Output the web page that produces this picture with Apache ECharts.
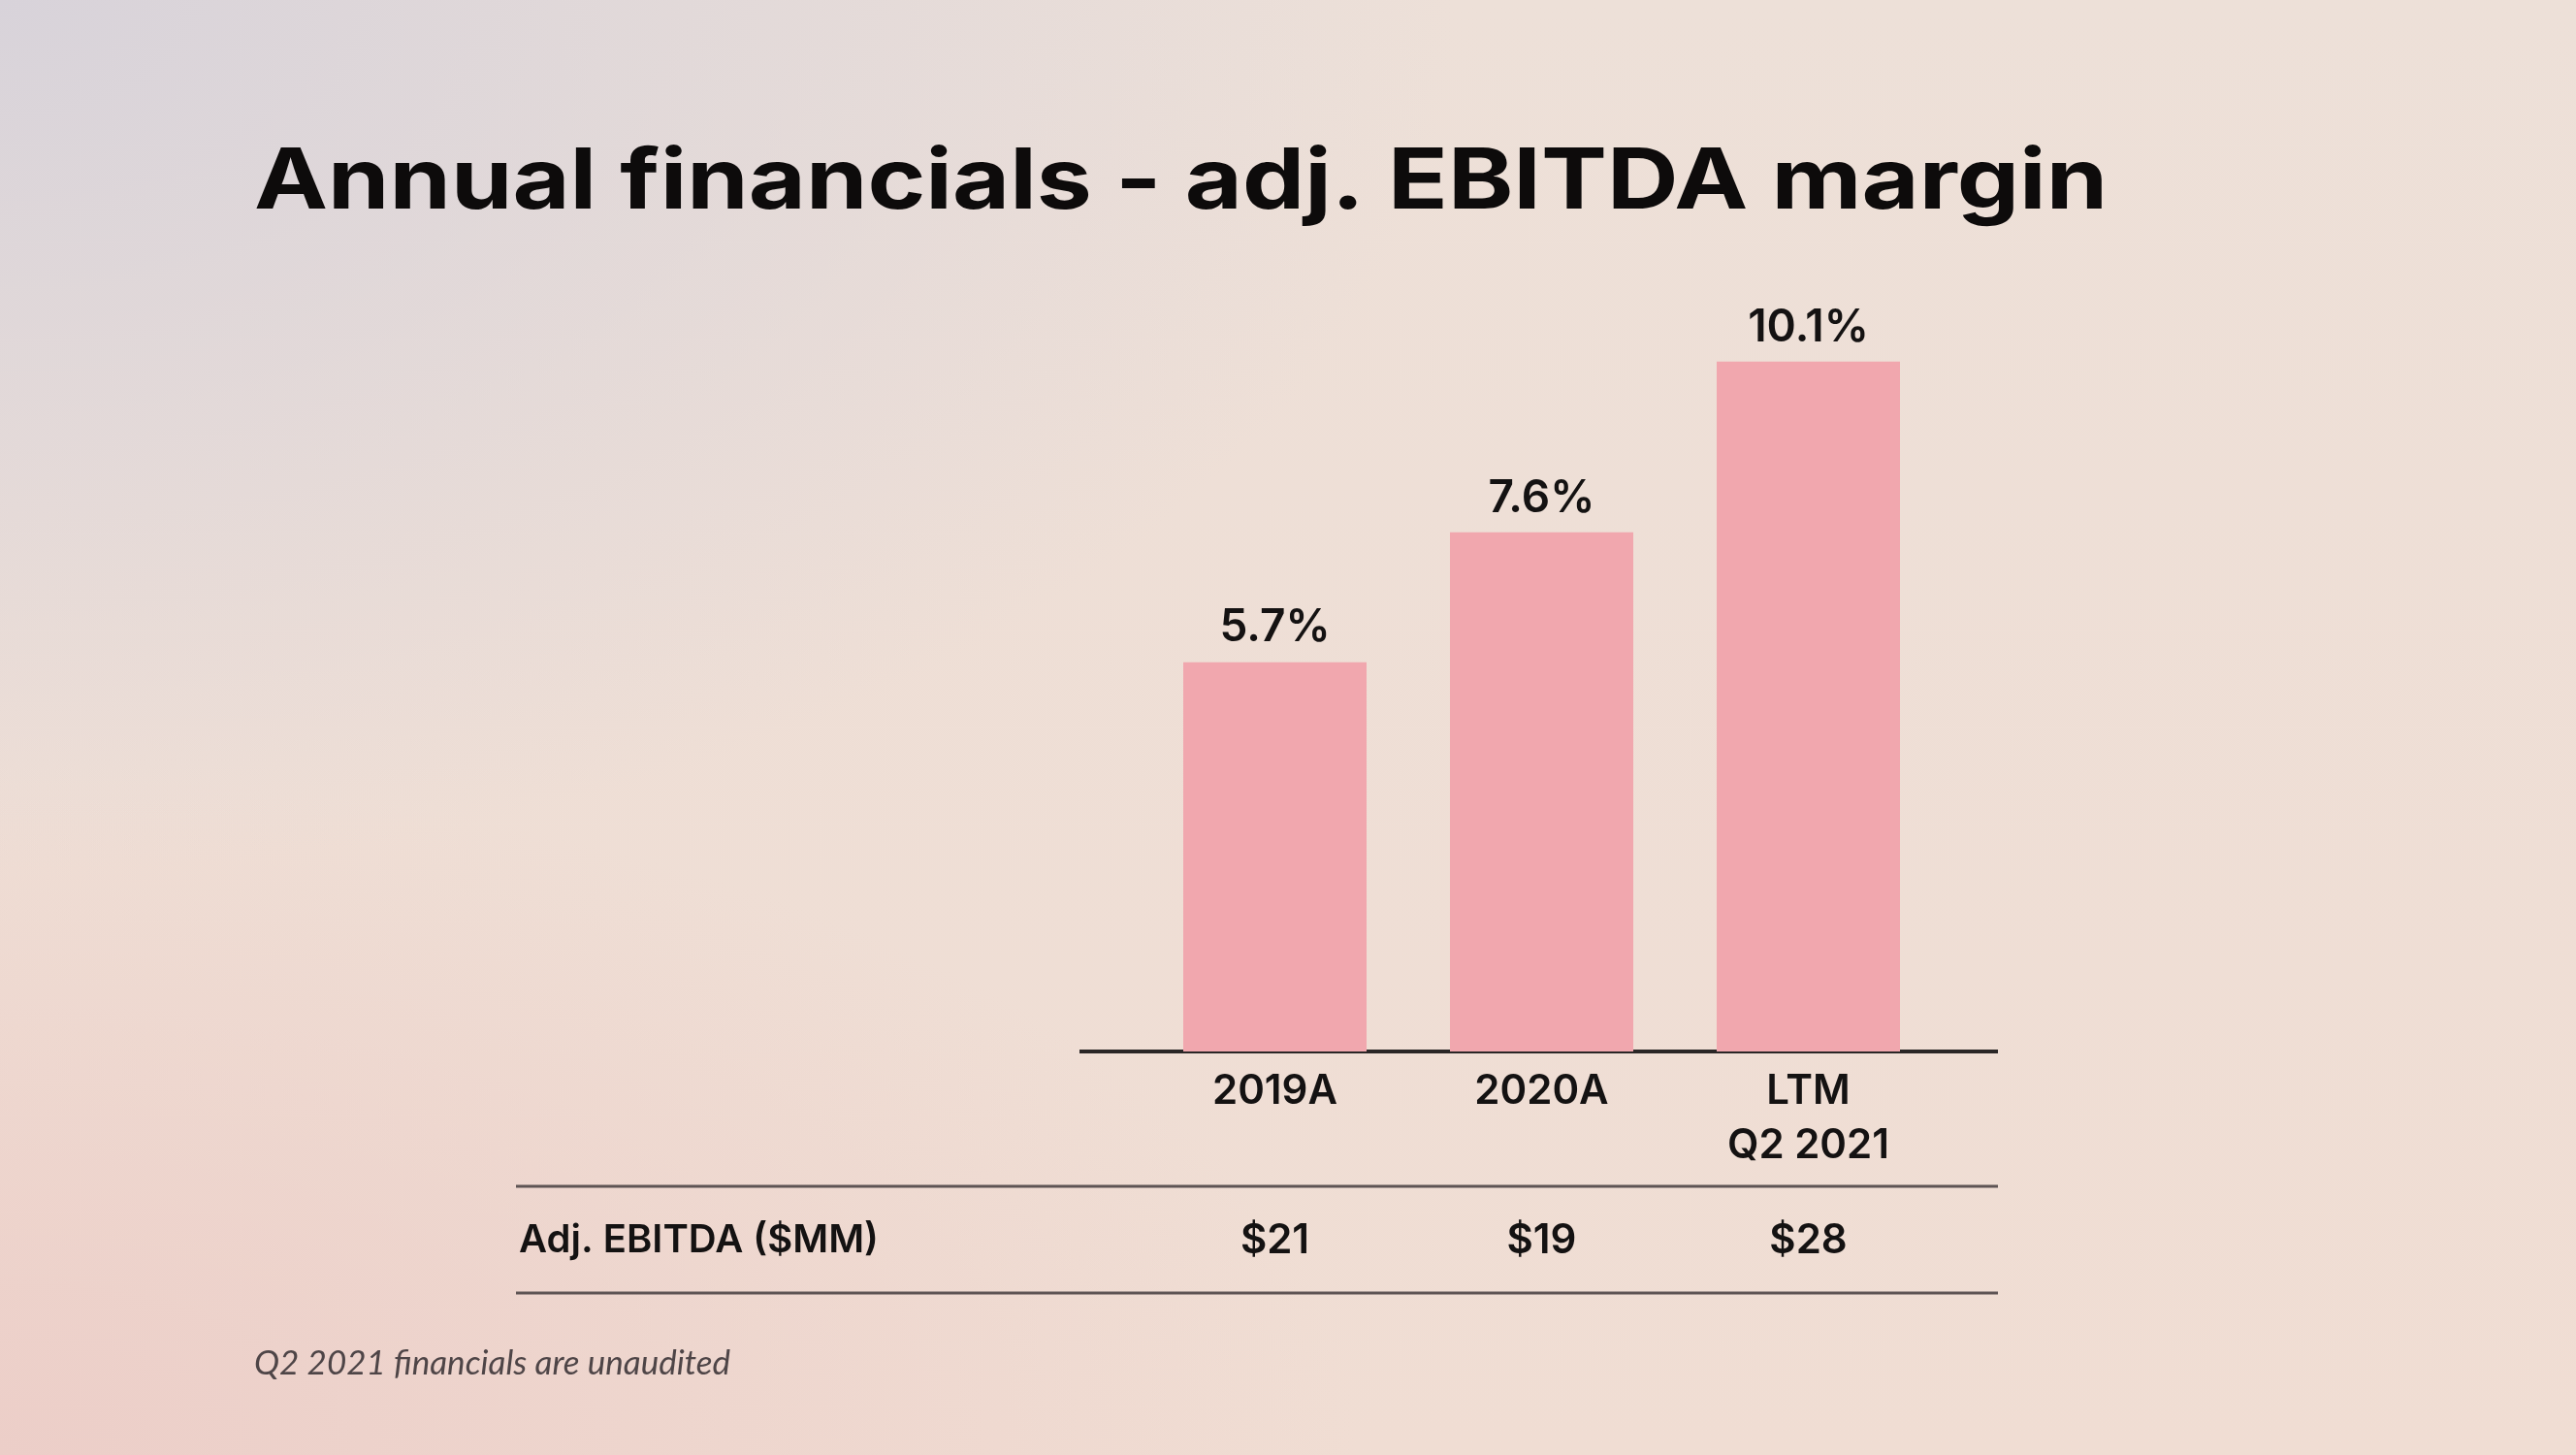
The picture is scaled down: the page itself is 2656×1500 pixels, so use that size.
<!DOCTYPE html>
<html>
<head>
<meta charset="utf-8">
<script src="https://cdn.jsdelivr.net/npm/echarts@6/dist/echarts.min.js"></script>
<style>
  html, body { margin: 0; padding: 0; width: 2656px; height: 1500px; overflow: hidden; }
  body {
    background:
      radial-gradient(ellipse 1500px 900px at 0% 0%, rgba(216,211,218,1) 0%, rgba(216,211,218,0) 100%),
      radial-gradient(ellipse 1400px 700px at 0% 100%, rgba(236,206,200,1) 0%, rgba(236,206,200,0) 100%),
      linear-gradient(180deg, #ede0d8 0%, #f0ddd3 100%);
  }
  #chart { width: 2656px; height: 1500px; }
</style>
</head>
<body>
<div id="chart"></div>
<script>
// ---- data ----
const categories = ['2019A', '2020A', 'LTM\nQ2 2021'];
const marginPct = [5.7, 7.6, 10.1];
const adjEbitda = ['$21', '$19', '$28'];
const rowLabel = 'Adj. EBITDA ($MM)';
const titleText = 'Annual financials - adj. EBITDA margin';
const footnote = 'Q2 2021 financials are unaudited';

const chart = echarts.init(document.getElementById('chart'), null, { renderer: 'canvas' });

const option = {
  backgroundColor: 'transparent',
  animation: false,
  grid: { left: 1177, right: 654, top: 239, bottom: 416 },
  xAxis: [
    {
      type: 'category',
      data: categories,
      axisLine: { show: false },
      axisTick: { show: false },
      axisLabel: {
        fontFamily: 'Inter', fontWeight: 600, fontSize: 42, color: '#141212',
        lineHeight: 56, margin: 13
      }
    },
    {
      type: 'category',
      position: 'bottom',
      data: categories,
      axisLine: { show: false },
      axisTick: { show: false },
      axisLabel: {
        fontFamily: 'Inter', fontWeight: 600, fontSize: 42, color: '#141212',
        lineHeight: 56, margin: 167,
        formatter: function (v, i) { return adjEbitda[i]; }
      }
    }
  ],
  yAxis: { type: 'value', min: 0, max: 12, show: false },
  series: [{
    type: 'bar',
    data: marginPct,
    barWidth: 189,
    itemStyle: { color: '#f1a7ae' },
    label: {
      show: true, position: 'top', distance: 12,
      fontFamily: 'Inter', fontWeight: 600, fontSize: 46, color: '#141212',
      formatter: function (p) { return p.value.toFixed(1) + '%'; }
    }
  }],
  graphic: [
    { type: 'text', x: 262, y: 146, scaleX: 1.185, scaleY: 1,
      style: { text: titleText, fontFamily: 'Inter', fontWeight: 700, fontSize: 86, fill: '#0d0b0b' } },
    { type: 'line', shape: { x1: 1113, y1: 1084, x2: 2060, y2: 1084 },
      style: { stroke: '#2a2626', lineWidth: 4 } },
    { type: 'line', shape: { x1: 532, y1: 1223, x2: 2060, y2: 1223 },
      style: { stroke: '#5e5454', lineWidth: 3 } },
    { type: 'line', shape: { x1: 532, y1: 1333, x2: 2060, y2: 1333 },
      style: { stroke: '#5e5454', lineWidth: 3 } },
    { type: 'text', x: 535, y: 1279,
      style: { text: rowLabel, fontFamily: 'Inter', fontWeight: 600, fontSize: 40, fill: '#141212', verticalAlign: 'middle' } },
    { type: 'text', x: 262, y: 1406,
      style: { text: footnote, fontFamily: 'Lato', fontStyle: 'italic', fontSize: 35, fill: '#4e4547', verticalAlign: 'middle' } }
  ]
};
chart.setOption(option);
</script>
</body>
</html>
